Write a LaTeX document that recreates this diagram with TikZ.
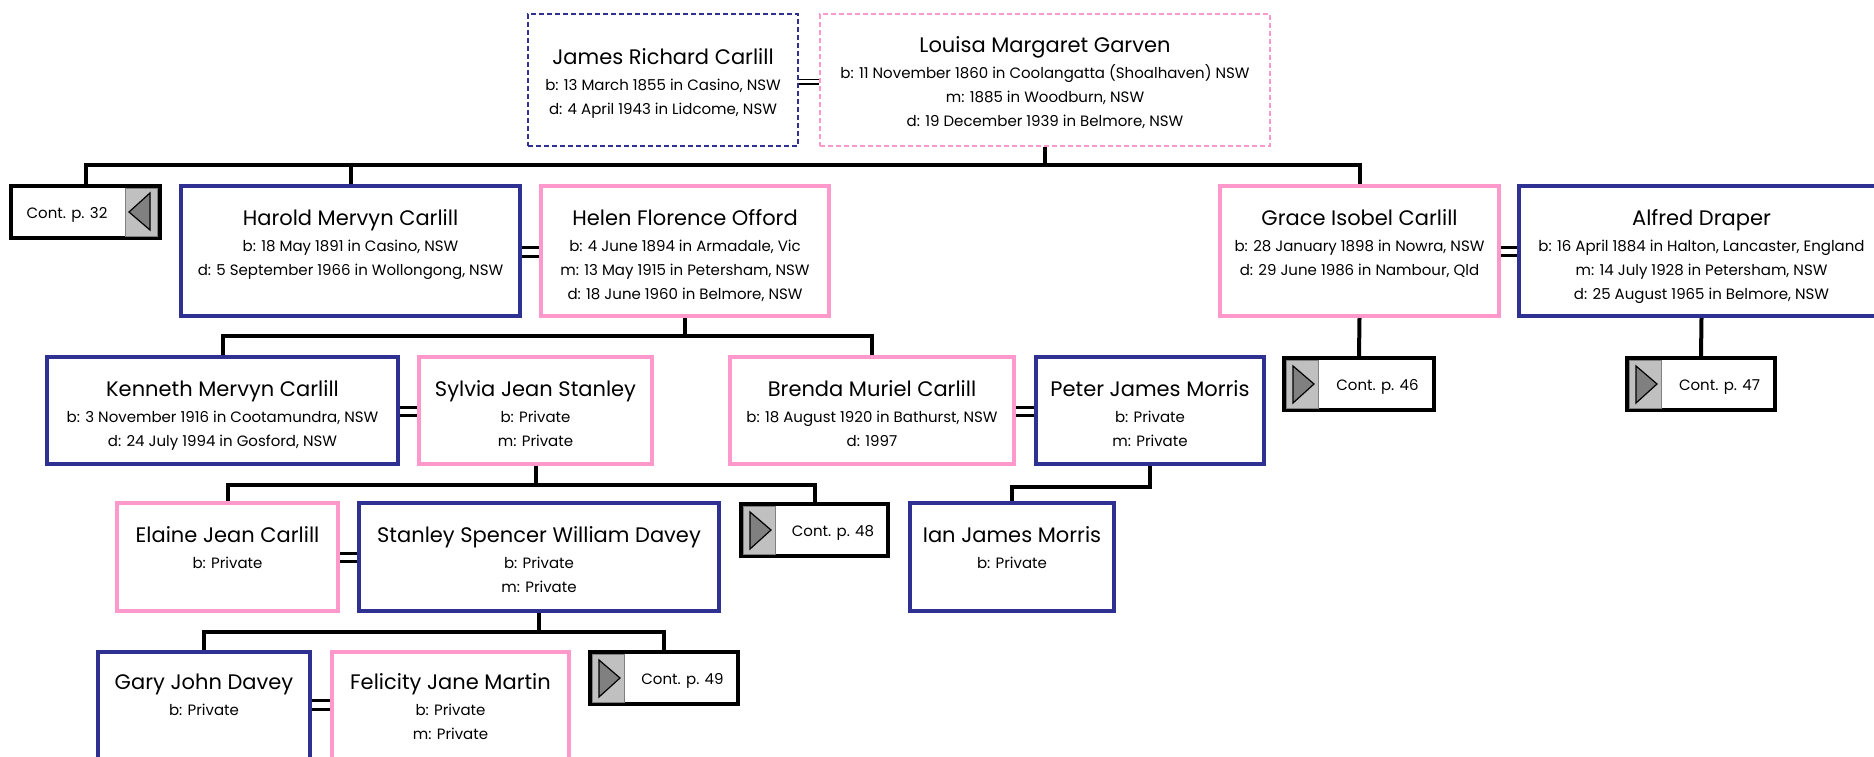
\documentclass[tikz,border=0pt]{standalone}
\usepackage{fontspec}
\setmainfont{Poppins}
\usetikzlibrary{backgrounds}
\newcommand\titlef{\fontsize{21}{25}\selectfont}
\newcommand\bodyf{\fontsize{15}{18}\selectfont}
\definecolor{navy}{RGB}{46,49,146}
\definecolor{pinkb}{RGB}{255,153,204}
\definecolor{contgrey}{RGB}{192,192,192}
\definecolor{trigrey}{RGB}{128,128,128}
\tikzset{
  pbox/.style={draw, fill=white, line width=3.5pt, inner sep=0pt, line join=miter},
  male/.style={pbox, draw=navy},
  female/.style={pbox, draw=pinkb},
  dmale/.style={pbox, draw=navy, line width=1.8pt, dash pattern=on 5pt off 3pt},
  dfemale/.style={pbox, draw=pinkb, line width=1.8pt, dash pattern=on 5pt off 3pt},
  contbox/.style={pbox, draw=black, line width=4pt},
  titletext/.style={font=\titlef, anchor=base, inner sep=0pt},
  bodytext/.style={font=\bodyf, anchor=base, inner sep=0pt},
  conn/.style={draw=black, line width=4pt, line join=miter},
  marr/.style={draw=black, line width=3pt},
  marrthin/.style={draw=black, line width=1.6pt},
  greytab/.style={fill=contgrey, draw=trigrey, line width=0.8pt},
  tri/.style={fill=trigrey, draw=black, line width=1.2pt, line join=miter},
}
% person box: style, name, left, top, right, bottom
\newcommand\ppbox[6]{\node[#1, minimum width={#5-#3}, minimum height={#6-#4}] (#2) at ({(#3+#5)/2},{(#4+#6)/2}) {};}
% person text: name, cx, texttop, title, lines
\newcommand\pinfo[5]{%
  \node[titletext] (#1-t) at (#2,{#3+39}) {#4};
  \foreach \l [count=\i] in {#5} {\node[bodytext] (#1-\i) at (#2,{#3+41+24*\i}) {\l};}%
}
% continuation box, tab on left, arrow right: name, l, t, r, b, text
\newcommand\contR[6]{%
  \node[contbox, minimum width={#4-#2-4}, minimum height={#5-#3-4}] (#1) at ({(#2+#4)/2},{(#3+#5)/2}) {};
  \path[greytab] (#2+4.5,#3+4) rectangle (#2+36,#5-4);
  \path[tri] (#2+11,#3+10) -- (#2+11,#5-9) -- (#2+32,{(#3+#5)/2}) -- cycle;
  \node[bodytext] (#1-t) at ({(#2+37+#4)/2},{(#3+#5)/2+6}) {#6};
}
% continuation box, tab on right, arrow left
\newcommand\contL[6]{%
  \node[contbox, minimum width={#4-#2-4}, minimum height={#5-#3-4}] (#1) at ({(#2+#4)/2},{(#3+#5)/2}) {};
  \path[greytab] (#4-37,#3+4) rectangle (#4-4.5,#5-4);
  \path[tri] (#4-12,#3+9) -- (#4-12,#5-10) -- (#4-33,{(#3+#5)/2}) -- cycle;
  \node[bodytext] (#1-t) at ({(#2+#4-37)/2},{(#3+#5)/2+6}) {#6};
}
\begin{document}
\begin{tikzpicture}[x=1pt,y=-1pt]
\useasboundingbox (0,0) rectangle (1874,757);
\clip (0,0) rectangle (1874,757);

% generation 0
\ppbox{dmale}{james}{528}{14}{798}{146}
\pinfo{james}{663}{26}{James Richard Carlill}{{b: 13 March 1855 in Casino, NSW},{d: 4 April 1943 in Lidcome, NSW}}
\ppbox{dfemale}{louisa}{820}{14}{1270}{146}
\pinfo{louisa}{1045}{14}{Louisa Margaret Garven}{{b: 11 November 1860 in Coolangatta (Shoalhaven) NSW},{m: 1885 in Woodburn, NSW},{d: 19 December 1939 in Belmore, NSW}}

% generation 1
\contL{cont32}{9}{184}{162}{240}{Cont. p. 32}
\ppbox{male}{harold}{181}{186}{520}{316}
\pinfo{harold}{350.5}{186}{Harold Mervyn Carlill}{{b: 18 May 1891 in Casino, NSW},{d: 5 September 1966 in Wollongong, NSW}}
\ppbox{female}{helen}{541}{186}{829}{316}
\pinfo{helen}{685}{186}{Helen Florence Offord}{{b: 4 June 1894 in Armadale, Vic},{m: 13 May 1915 in Petersham, NSW},{d: 18 June 1960 in Belmore, NSW}}
\ppbox{female}{grace}{1220}{186}{1499}{316}
\pinfo{grace}{1359.5}{186}{Grace Isobel Carlill}{{b: 28 January 1898 in Nowra, NSW},{d: 29 June 1986 in Nambour, Qld}}
\ppbox{male}{alfred}{1519}{186}{1884}{316}
\pinfo{alfred}{1701.5}{186}{Alfred Draper}{{b: 16 April 1884 in Halton, Lancaster, England},{m: 14 July 1928 in Petersham, NSW},{d: 25 August 1965 in Belmore, NSW}}
\contR{cont46}{1282}{356}{1436}{412}{Cont. p. 46}
\contR{cont47}{1625}{356}{1777}{412}{Cont. p. 47}

% generation 2
\ppbox{male}{kenneth}{47}{357}{398}{464}
\pinfo{kenneth}{222.5}{357}{Kenneth Mervyn Carlill}{{b: 3 November 1916 in Cootamundra, NSW},{d: 24 July 1994 in Gosford, NSW}}
\ppbox{female}{sylvia}{419}{357}{652}{464}
\pinfo{sylvia}{535.5}{357}{Sylvia Jean Stanley}{{b: Private},{m: Private}}
\ppbox{female}{brenda}{730}{357}{1014}{464}
\pinfo{brenda}{872}{357}{Brenda Muriel Carlill}{{b: 18 August 1920 in Bathurst, NSW},{d: 1997}}
\ppbox{male}{peter}{1036}{357}{1264}{464}
\pinfo{peter}{1150}{357}{Peter James Morris}{{b: Private},{m: Private}}

% generation 3
\ppbox{female}{elaine}{117}{503}{338}{611}
\pinfo{elaine}{227.5}{503}{Elaine Jean Carlill}{{b: Private}}
\ppbox{male}{stanley}{359}{503}{719}{611}
\pinfo{stanley}{539}{503}{Stanley Spencer William Davey}{{b: Private},{m: Private}}
\contR{cont48}{739}{502}{890}{558}{Cont. p. 48}
\ppbox{male}{ian}{910}{503}{1114}{611}
\pinfo{ian}{1012}{503}{Ian James Morris}{{b: Private}}

% generation 4
\ppbox{male}{gary}{98}{652}{310}{765}
\pinfo{gary}{204}{650}{Gary John Davey}{{b: Private}}
\ppbox{female}{felicity}{332}{652}{569}{765}
\pinfo{felicity}{450.5}{650}{Felicity Jane Martin}{{b: Private},{m: Private}}
\contR{cont49}{588}{650}{740}{706}{Cont. p. 49}

\begin{pgfonlayer}{background}
  \coordinate (j0) at (1045,165);
  \coordinate (j1) at (685,336);
  \coordinate (j2) at (535.5,485);
  \coordinate (j4) at (539,632);
  \draw[conn] (louisa.south) -- (j0);
  \draw[conn] (cont32.north) |- (j0) -| (grace.north);
  \draw[conn] (harold.north) -- (harold.north |- j0);
  \draw[conn] (grace.south) -- (cont46.north);
  \draw[conn] (alfred.south) -- (cont47.north);
  \draw[conn] (helen.south) -- (j1);
  \draw[conn] (kenneth.north) |- (j1) -| (brenda.north);
  \draw[conn] (sylvia.south) -- (j2);
  \draw[conn] (elaine.north) |- (j2) -| (cont48.north);
  \draw[conn] (peter.south) -- ++(0,21) -| (ian.north);
  \draw[conn] (stanley.south) -- (j4);
  \draw[conn] (gary.north) |- (j4) -| (cont49.north);
  % marriages
  \draw[marrthin] (james.east |- 0,79.5) -- (louisa.west |- 0,79.5);
  \draw[marrthin] (james.east |- 0,84) -- (louisa.west |- 0,84);
  \draw[marr] (harold.east |- 0,247) -- (helen.west |- 0,247);
  \draw[marr] (harold.east |- 0,256) -- (helen.west |- 0,256);
  \draw[marr] (grace.east |- 0,247) -- (alfred.west |- 0,247);
  \draw[marr] (grace.east |- 0,255) -- (alfred.west |- 0,255);
  \draw[marr] (kenneth.east |- 0,407) -- (sylvia.west |- 0,407);
  \draw[marr] (kenneth.east |- 0,415) -- (sylvia.west |- 0,415);
  \draw[marr] (brenda.east |- 0,407) -- (peter.west |- 0,407);
  \draw[marr] (brenda.east |- 0,415) -- (peter.west |- 0,415);
  \draw[marr] (elaine.east |- 0,553) -- (stanley.west |- 0,553);
  \draw[marr] (elaine.east |- 0,561) -- (stanley.west |- 0,561);
  \draw[marr] (gary.east |- 0,700) -- (felicity.west |- 0,700);
  \draw[marr] (gary.east |- 0,709) -- (felicity.west |- 0,709);
\end{pgfonlayer}
\end{tikzpicture}
\end{document}
